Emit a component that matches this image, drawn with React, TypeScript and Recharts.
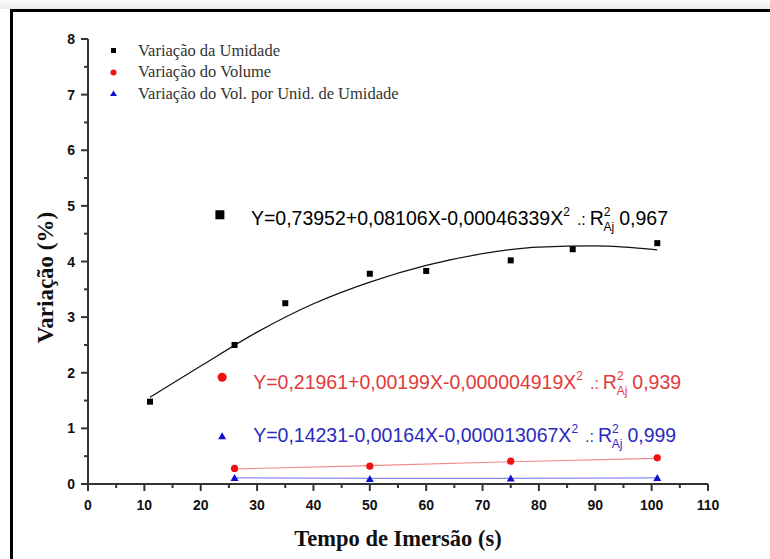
import React from 'react';
import { ComposedChart, XAxis, YAxis, Line, Scatter, ReferenceDot, Legend } from 'recharts';

// ---- data ----
const moistureX = [11, 26, 35, 50, 60, 75, 86, 101];
const moistureY = [1.48, 2.5, 3.25, 3.78, 3.83, 4.02, 4.22, 4.33];
const volumeX = [26, 50, 75, 101];
const volumeY = [0.28, 0.32, 0.41, 0.47];
const ratioX = [26, 50, 75, 101];
const ratioY = [0.11, 0.09, 0.1, 0.11];

const moistureFitX = [11, 20, 30, 40, 50, 60, 70, 80, 90, 101];
const moistureFitY = [1.56, 2.12, 2.73, 3.24, 3.63, 3.93, 4.14, 4.26, 4.28, 4.21];
const volumeFitX = [26, 50, 75, 101];
const volumeFitY = [0.27, 0.33, 0.4, 0.46];
const ratioFitX = [26, 50, 75, 101];
const ratioFitY = [0.11, 0.1, 0.1, 0.11];

const xTicks = [0, 5, 10, 15, 20, 25, 30, 35, 40, 45, 50, 55, 60, 65, 70, 75, 80, 85, 90, 95, 100, 105, 110];
const yTicks = [0, 0.5, 1, 1.5, 2, 2.5, 3, 3.5, 4, 4.5, 5, 5.5, 6, 6.5, 7, 7.5, 8];

const legendLabels = [
  'Variação da Umidade',
  'Variação do Volume',
  'Variação do Vol. por Unid. de Umidade',
];

const eqMain = [
  'Y=0,73952+0,08106X-0,00046339X',
  'Y=0,21961+0,00199X-0,000004919X',
  'Y=0,14231-0,00164X-0,000013067X',
];
const eqR2 = ['0,967', '0,939', '0,999'];
const eqAnchorX = [23.4, 23.8, 23.8];
const eqAnchorY = [4.84, 1.92, 0.86];

const xTitle = 'Tempo de Imersão (s)';
const yTitle = 'Variação (%)';

const zip = (xs: number[], ys: number[]) => xs.map((x, i) => ({ x, y: ys[i] }));

const moistureData = zip(moistureX, moistureY);
const volumeData = zip(volumeX, volumeY);
const ratioData = zip(ratioX, ratioY);
const moistureFit = zip(moistureFitX, moistureFitY);
const volumeFit = zip(volumeFitX, volumeFitY);
const ratioFit = zip(ratioFitX, ratioFitY);

const BLACK = '#000000';
const RED = '#ee1111';
const BLUE = '#1010d0';
const RED_TEXT = '#e23a3a';
const BLUE_TEXT = '#2a2ac0';
const AXIS = '#333333';
const SANS = '"Liberation Sans", Arial, sans-serif';
const SERIF = '"Liberation Serif", "Times New Roman", serif';

const Square = (props: any) => {
  const { cx, cy } = props;
  if (cx == null || cy == null) return null;
  return <rect x={cx - 3} y={cy - 3} width={6} height={6} fill={BLACK} />;
};
const Circle = (props: any) => {
  const { cx, cy } = props;
  if (cx == null || cy == null) return null;
  return <circle cx={cx} cy={cy} r={3.6} fill={RED} />;
};
const Triangle = (props: any) => {
  const { cx, cy } = props;
  if (cx == null || cy == null) return null;
  return <path d={`M${cx},${cy - 4}L${cx + 4},${cy + 3}L${cx - 4},${cy + 3}Z`} fill={BLUE} />;
};

const XTick = (props: any) => {
  const { x, y, payload } = props;
  const v = payload.value;
  const major = v % 10 === 0;
  return (
    <g>
      <line x1={x} x2={x} y1={y} y2={y + (major ? 7 : 4)} stroke={AXIS} strokeWidth={2} />
      {major && (
        <text x={x} y={y + 26} textAnchor="middle" fontFamily={SANS} fontWeight="bold" fontSize={14} fill="#111">
          {v}
        </text>
      )}
    </g>
  );
};

const YTick = (props: any) => {
  const { x, y, payload } = props;
  const v = payload.value;
  const major = Number.isInteger(v);
  return (
    <g>
      <line x1={x - (major ? 7 : 4)} x2={x} y1={y} y2={y} stroke={AXIS} strokeWidth={2} />
      {major && (
        <text x={x - 13} y={y + 5} textAnchor="end" fontFamily={SANS} fontWeight="bold" fontSize={14} fill="#111">
          {v}
        </text>
      )}
    </g>
  );
};

const LegendContent = () => {
  const markers = [
    <rect key="s" x={5} y={5} width={5} height={5} fill={BLACK} />,
    <circle key="c" cx={7.5} cy={7.5} r={3} fill={RED} />,
    <path key="t" d="M7.5,4.5L11,10L4,10Z" fill={BLUE} />,
  ];
  return (
    <div style={{ fontFamily: SERIF, fontSize: 16.5, color: '#333' }}>
      {legendLabels.map((label, i) => (
        <div key={label} style={{ display: 'flex', alignItems: 'center', height: 21.5, whiteSpace: 'nowrap' }}>
          <svg width={15} height={15} style={{ marginRight: 17 }}>
            {markers[i]}
          </svg>
          <span style={{ fontFamily: SERIF }}>{label}</span>
        </div>
      ))}
    </div>
  );
};

const makeEquation = (i: number) => (props: any) => {
  const { cx, cy } = props;
  if (cx == null || cy == null) return null;
  const textColor = [BLACK, RED_TEXT, BLUE_TEXT][i];
  const dy = [10, 12, 6][i];
  const marker =
    i === 0 ? (
      <rect x={cx - 4.5} y={cy - 4.5} width={9} height={9} fill={BLACK} />
    ) : i === 1 ? (
      <circle cx={cx} cy={cy} r={4.5} fill={RED} />
    ) : (
      <path d={`M${cx},${cy - 4}L${cx + 4},${cy + 3}L${cx - 4},${cy + 3}Z`} fill={BLUE} />
    );
  return (
    <g>
      {marker}
      <text x={cx + 31} y={cy + dy} fill={textColor} fontFamily={SANS} fontSize={19.5}>
        {eqMain[i]}
        <tspan fontSize={12} dy={-9}>2</tspan>
        <tspan fontSize={16} dx={7} dy={9}>{'.:'}</tspan>
        <tspan fontSize={19.5} dx={4}>R</tspan>
        <tspan fontSize={12} dy={-9}>2</tspan>
        <tspan fontSize={12} dx={-7} dy={15}>Aj</tspan>
        <tspan fontSize={19.5} dx={5} dy={-6}>{eqR2[i]}</tspan>
      </text>
    </g>
  );
};

const YTitle = (props: any) => {
  const vb = props.viewBox || {};
  const cx = (vb.x ?? 28) + 17;
  const cy = (vb.y ?? 39) + (vb.height ?? 445) / 2 + 16;
  return (
    <text
      x={cx}
      y={cy}
      transform={`rotate(-90, ${cx}, ${cy})`}
      textAnchor="middle"
      dominantBaseline="central"
      fontFamily={SERIF}
      fontWeight="bold"
      fontSize={23}
      fill="#111"
    >
      {yTitle}
    </text>
  );
};

const XTitle = (props: any) => {
  const vb = props.viewBox || {};
  const cx = (vb.x ?? 88) + (vb.width ?? 620) / 2;
  const cy = (vb.y ?? 484) + 62;
  return (
    <text x={cx} y={cy} textAnchor="middle" fontFamily={SERIF} fontWeight="bold" fontSize={22.5} fill="#111">
      {xTitle}
    </text>
  );
};

export default function App() {
  return (
    <div style={{ position: 'absolute', left: 0, top: 0, width: 770, height: 559, background: '#fff', overflow: 'hidden' }}>
      <div style={{ position: 'absolute', left: 0, top: 0, width: 770, height: 9, background: 'linear-gradient(#fafafa, #ececec)' }} />
      <div
        style={{
          position: 'absolute',
          left: 10,
          top: 9,
          width: 780,
          height: 600,
          borderTop: '3px solid #000',
          borderLeft: '3px solid #000',
        }}
      />
      <div style={{ position: 'absolute', left: 0, top: 0 }}>
        <ComposedChart width={770} height={559} margin={{ top: 39, right: 62, bottom: 35, left: 28 }}>
          <XAxis
            type="number"
            dataKey="x"
            domain={[0, 110]}
            ticks={xTicks}
            interval={0}
            height={40}
            tickSize={0}
            tickMargin={0}
            tickLine={false}
            tick={<XTick />}
            axisLine={{ stroke: AXIS, strokeWidth: 2 }}
            allowDataOverflow
            label={XTitle}
          />
          <YAxis
            type="number"
            dataKey="y"
            domain={[0, 8]}
            ticks={yTicks}
            interval={0}
            width={60}
            tickSize={0}
            tickMargin={0}
            tickLine={false}
            tick={<YTick />}
            axisLine={{ stroke: AXIS, strokeWidth: 2 }}
            allowDataOverflow
            label={YTitle}
          />
          <Legend
            layout="horizontal"
            verticalAlign="middle"
            align="center"
            content={<LegendContent />}
            wrapperStyle={{ position: 'absolute', left: 106, top: 40, width: 420, height: 66 }}
          />
          <Line data={moistureFit} dataKey="y" type="monotone" stroke="#111" strokeWidth={1.2} dot={false} isAnimationActive={false} legendType="none" />
          <Line data={volumeFit} dataKey="y" type="linear" stroke="#f08a8a" strokeWidth={1.2} dot={false} isAnimationActive={false} legendType="none" />
          <Line data={ratioFit} dataKey="y" type="linear" stroke="#8a8af0" strokeWidth={1.2} dot={false} isAnimationActive={false} legendType="none" />
          <Scatter data={moistureData} dataKey="y" shape={<Square />} isAnimationActive={false} />
          <Scatter data={volumeData} dataKey="y" shape={<Circle />} isAnimationActive={false} />
          <Scatter data={ratioData} dataKey="y" shape={<Triangle />} isAnimationActive={false} />
          {eqAnchorX.map((ax, i) => (
            <ReferenceDot key={i} x={ax} y={eqAnchorY[i]} r={4} shape={makeEquation(i)} />
          ))}
        </ComposedChart>
      </div>
    </div>
  );
}
